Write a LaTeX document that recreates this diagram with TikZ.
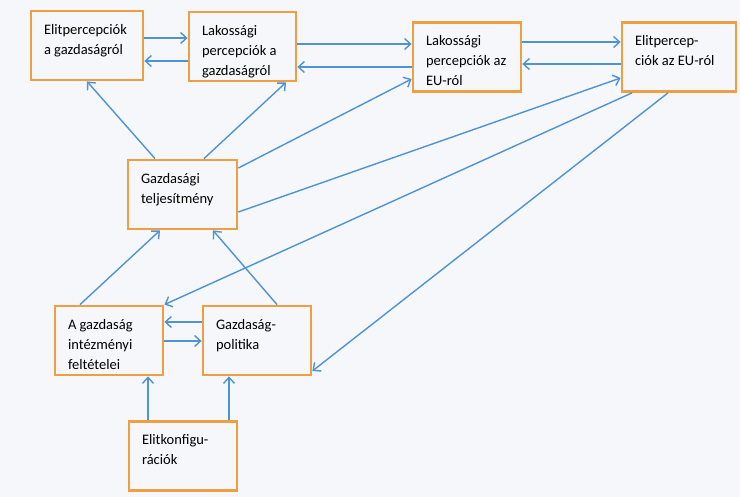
\documentclass[tikz,border=0pt]{standalone}
\usepackage{fontspec}
\setmainfont{Carlito}
\usetikzlibrary{arrows.meta}
\definecolor{keret}{RGB}{240,158,66}
\definecolor{nyil}{RGB}{78,148,212}
\definecolor{papir}{RGB}{246,247,250}
\newcommand{\doboztext}[2]{\parbox[c][49pt][t]{#1}{\vspace*{3pt}\raggedright #2}}

\begin{document}
\begin{tikzpicture}[x=1pt, y=-1pt,
	doboz/.style={draw=keret, line width=2.8pt, inner xsep=13pt, inner ysep=10pt, font=\fontsize{14.5}{20}\selectfont},
	kapcs/.style={nyil, line width=1.4pt, -{Straight Barb[length=6pt,width=11pt]}}]
	\fill[papir] (0,0) rectangle (740,497);
	\useasboundingbox (0,0) rectangle (740,497);
	\node[doboz] (b1) at (87,45.5) {\doboztext{86pt}{Elitpercepciók\\a gazdaságról}};
	\node[doboz] (b2) at (242.5,46.5) {\doboztext{81pt}{Lakossági\\percepciók a\\gazdaságról}};
	\node[doboz] (b3) at (467,57) {\doboztext{82pt}{Lakossági\\percepciók az\\EU-ról}};
	\node[doboz] (b4) at (679,57) {\doboztext{88pt}{Elitpercep-\\ciók az EU-ról}};
	\node[doboz] (b5) at (182.5,194.5) {\doboztext{83pt}{Gazdasági\\teljesítmény}};
	\node[doboz] (b6) at (109,340.5) {\doboztext{82pt}{A gazdaság\\intézményi\\feltételei}};
	\node[doboz] (b7) at (257,340.5) {\doboztext{82pt}{Gazdaság-\\politika}};
	\node[doboz] (b8) at (183,456) {\doboztext{82pt}{Elitkonfigu-\\rációk}};
	\draw[kapcs] (b1.east |- 0,38) -- (b2.west |- 0,38);
	\draw[kapcs] (b2.west |- 0,61) -- (b1.east |- 0,61);
	\draw[kapcs] (b2.east |- 0,44) -- (b3.west |- 0,44);
	\draw[kapcs] (b3.west |- 0,67) -- (b2.east |- 0,67);
	\draw[kapcs] (b3.east |- 0,42) -- (b4.west |- 0,42);
	\draw[kapcs] (b4.west |- 0,64) -- (b3.east |- 0,64);
	\draw[kapcs] (155,0 |- b5.north) -- (87,0 |- b1.south);
	\draw[kapcs] (204,0 |- b5.north) -- (286,0 |- b2.south);
	\draw[kapcs] (b5.east |- 0,168) -- (b3.west |- 0,79);
	\draw[kapcs] (b5.east |- 0,212) -- (b4.west |- 0,78);
	\draw[kapcs] (632,0 |- b4.south) -- (b6.north east);
	\draw[kapcs] (668,0 |- b4.south) -- (b7.east |- 0,371);
	\draw[kapcs] (80,0 |- b6.north) -- (160,0 |- b5.south);
	\draw[kapcs] (277,0 |- b7.north) -- (213,0 |- b5.south);
	\draw[kapcs] (b7.west |- 0,322) -- (b6.east |- 0,322);
	\draw[kapcs] (b6.east |- 0,341) -- (b7.west |- 0,341);
	\draw[kapcs] (148,0 |- b8.north) -- (148,0 |- b6.south);
	\draw[kapcs] (229,0 |- b8.north) -- (229,0 |- b7.south);
\end{tikzpicture}
\end{document}
